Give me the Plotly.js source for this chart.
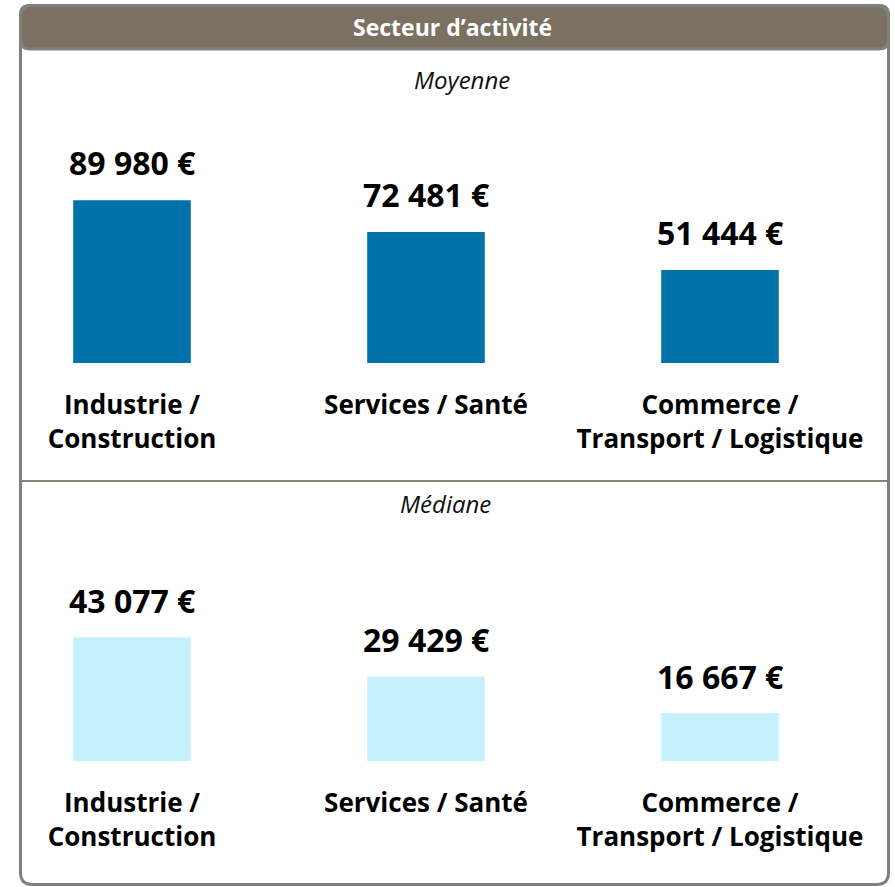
<!DOCTYPE html>
<html>
<head>
<meta charset="utf-8">
<script src="https://cdn.plot.ly/plotly-3.0.1.min.js"></script>
<style>html,body{margin:0;padding:0;background:#fff;}</style>
</head>
<body>
<div id="chart" style="width:895px;height:887px;"></div>
<script>
const categories = ["Industrie /<br>Construction", "Services / Santé", "Commerce /<br>Transport / Logistique"];
const moyenneValues = [89980, 72481, 51444];
const medianeValues = [43077, 29429, 16667];
const headerTitle = "Secteur d’activité";
const panelTitles = ["Moyenne", "Médiane"];

const W = 895, H = 887;
const px = x => x / W;
const py = y => 1 - y / H;
const fmt = v => v.toString().replace(/\B(?=(\d{3})+(?!\d))/g, " ") + " €";

function roundRect(x0, y0, x1, y1, r) {
  const P = (x, y) => px(x).toFixed(5) + "," + py(y).toFixed(5);
  return "M" + P(x0 + r, y0) + " L" + P(x1 - r, y0) + " Q" + P(x1, y0) + " " + P(x1, y0 + r) +
    " L" + P(x1, y1 - r) + " Q" + P(x1, y1) + " " + P(x1 - r, y1) +
    " L" + P(x0 + r, y1) + " Q" + P(x0, y1) + " " + P(x0, y1 - r) +
    " L" + P(x0, y0 + r) + " Q" + P(x0, y0) + " " + P(x0 + r, y0) + " Z";
}

const font = "'Open Sans', 'DejaVu Sans', sans-serif";
const xRange = [(25 - 132) / 294, (885 - 132) / 294];

const traces = [
  {type: "bar", x: categories, y: moyenneValues, xaxis: "x", yaxis: "y",
   marker: {color: "#0072aa"}, width: 0.4, hoverinfo: "skip"},
  {type: "bar", x: categories, y: medianeValues, xaxis: "x2", yaxis: "y2",
   marker: {color: "#c6f2fd"}, width: 0.4, hoverinfo: "skip"}
];

const annotations = [];
moyenneValues.forEach((v, i) => annotations.push({
  x: categories[i], y: v, xref: "x", yref: "y", text: "<b>" + fmt(v) + "</b>",
  showarrow: false, xanchor: "center", yanchor: "bottom", yshift: 14,
  font: {family: font, size: 32, color: "#000"}
}));
medianeValues.forEach((v, i) => annotations.push({
  x: categories[i], y: v, xref: "x2", yref: "y2", text: "<b>" + fmt(v) + "</b>",
  showarrow: false, xanchor: "center", yanchor: "bottom", yshift: 13,
  font: {family: font, size: 32, color: "#000"}
}));
annotations.push({x: px(453), y: py(27), xref: "paper", yref: "paper", text: "<b>" + headerTitle + "</b>",
  showarrow: false, xanchor: "center", yanchor: "middle", font: {family: font, size: 23, color: "#fff"}});
annotations.push({x: px(462), y: py(80), xref: "paper", yref: "paper", text: "<i>" + panelTitles[0] + "</i>",
  showarrow: false, xanchor: "center", yanchor: "middle", font: {family: font, size: 24, color: "#111"}});
annotations.push({x: px(445), y: py(503), xref: "paper", yref: "paper", text: "<i>" + panelTitles[1] + "</i>",
  showarrow: false, xanchor: "center", yanchor: "middle", font: {family: font, size: 24, color: "#111"}});

const axisX = {
  type: "category", range: xRange, domain: [px(25), px(885)], showgrid: false, zeroline: false,
  showline: false, ticks: "", ticklabelstandoff: 24, fixedrange: true,
  tickfont: {family: font, size: 26, color: "#000", weight: "bold"}
};

const layout = {
  width: W, height: H, margin: {l: 0, r: 0, t: 0, b: 0},
  paper_bgcolor: "#fff", plot_bgcolor: "rgba(0,0,0,0)", showlegend: false,
  xaxis: Object.assign({}, axisX, {anchor: "y"}),
  xaxis2: Object.assign({}, axisX, {anchor: "y2"}),
  yaxis: {domain: [py(363), py(100)], range: [0, 263 / 0.001809], visible: false, fixedrange: true},
  yaxis2: {domain: [py(761), py(530)], range: [0, 231 / 0.002874], visible: false, fixedrange: true},
  annotations: annotations,
  shapes: [
    {type: "path", xref: "paper", yref: "paper", path: roundRect(20.5, 5.5, 888.5, 884.5, 12),
     line: {color: "#808080", width: 3}, fillcolor: "rgba(0,0,0,0)", layer: "above"},
    {type: "path", xref: "paper", yref: "paper", path: roundRect(20.5, 5.5, 888.5, 49, 9),
     line: {color: "#808080", width: 3}, fillcolor: "#7a7162", layer: "below"},
    {type: "line", xref: "paper", yref: "paper", x0: px(22), x1: px(887), y0: py(481), y1: py(481),
     line: {color: "#8a7f70", width: 2}}
  ]
};

Plotly.newPlot("chart", traces, layout, {displayModeBar: false, staticPlot: true});
</script>
</body>
</html>
